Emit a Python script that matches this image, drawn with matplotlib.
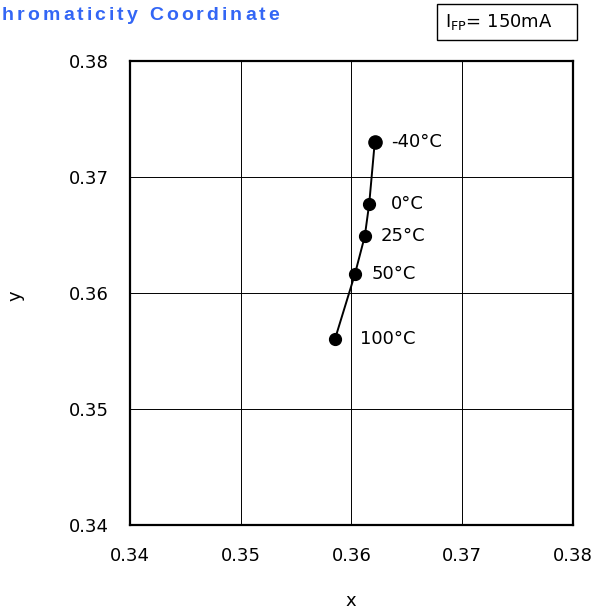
import matplotlib
matplotlib.use("Agg")
import matplotlib.pyplot as plt
import matplotlib.transforms as mtransforms
from matplotlib.patches import Rectangle

# Data
labels = ["-40°C", "0°C", "25°C", "50°C", "100°C"]
x_vals = [0.3621, 0.3616, 0.3612, 0.3603, 0.3585]
y_vals = [0.3730, 0.3677, 0.3649, 0.3616, 0.3560]
xticks = [0.34, 0.35, 0.36, 0.37, 0.38]
yticks = [0.34, 0.35, 0.36, 0.37, 0.38]
title = "Chromaticity Coordinate"
cond = "I$_{\\mathrm{FP}}$= 150mA"

# label offsets (layout, in data units of x)
label_dx = [0.0015, 0.0020, 0.0014, 0.0015, 0.0023]

W, H = 592, 612
fig = plt.figure(figsize=(W / 100, H / 100), dpi=100)
ax = fig.add_axes([130 / W, 1 - 525 / H, (573 - 130) / W, (525 - 61) / H])

ax.plot(x_vals, y_vals, color="black", lw=1.4, zorder=3)
ax.plot(x_vals[1:], y_vals[1:], "o", color="black", ms=8.5, zorder=4)
ax.plot(x_vals[:1], y_vals[:1], "o", color="black", ms=9.5, zorder=4)
for xv, yv, lab, dx in zip(x_vals, y_vals, labels, label_dx):
    ax.text(xv + dx, yv, lab, fontsize=13, va="center", ha="left",
            family="DejaVu Sans")

ax.set_xlim(0.34, 0.38)
ax.set_ylim(0.34, 0.38)
ax.set_xticks(xticks)
ax.set_yticks(yticks)
ax.set_xticklabels([f"{t:.2f}" for t in xticks])
ax.set_yticklabels([f"{t:.2f}" for t in yticks])
ax.tick_params(length=0, labelsize=13)
ax.tick_params(axis="x", pad=16)
ax.tick_params(axis="y", pad=15)
ax.grid(True, color="black", lw=0.7)
ax.set_axisbelow(True)
for s in ax.spines.values():
    s.set_linewidth(1.6)
    s.set_color("black")

fig.text(351 / W, 1 - 601 / H, "x", fontsize=13, ha="center", va="center")
fig.text(16 / W, 1 - 296 / H, "y", fontsize=13, ha="center", va="center",
         rotation=90)

# condition box
fig.patches.append(Rectangle((437 / W, 1 - 39.5 / H), (577 - 437) / W,
                             (39.5 - 4.5) / H, transform=fig.transFigure,
                             fill=False, ec="black", lw=1.0))
fig.text(445 / W, 1 - 22 / H, cond, fontsize=13, ha="left", va="center")

# letter-spaced title
renderer = fig.canvas.get_renderer()
ident = mtransforms.IdentityTransform()
xpos = -15.0
ypix = H - 15
spacing = 3.0
for ch in title:
    if ch == " ":
        xpos += 9.0
        continue
    t = fig.text(xpos, ypix, ch, transform=ident, fontsize=14,
                 fontweight="bold", family="Liberation Sans",
                 color="#3366f5", ha="left", va="center")
    bb = t.get_window_extent(renderer)
    xpos += bb.width + spacing

fig.savefig("out.png", dpi=100)
